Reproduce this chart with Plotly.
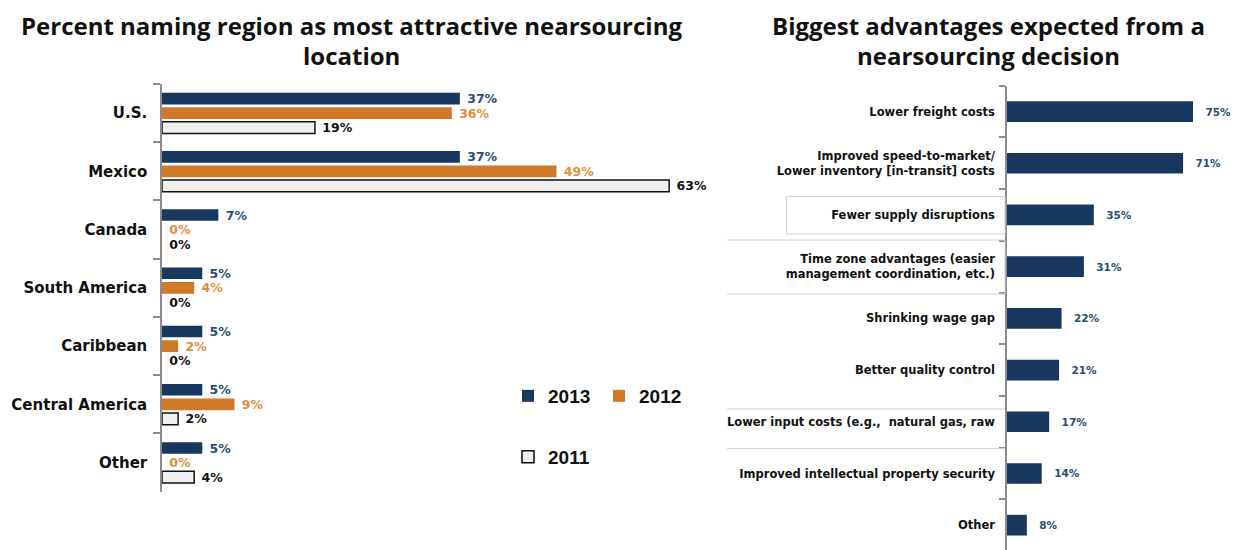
import plotly.graph_objects as go

# ---------------- data ----------------
regions = ["U.S.", "Mexico", "Canada", "South America", "Caribbean", "Central America", "Other"]
vals_2013 = [37, 37, 7, 5, 5, 5, 5]
vals_2012 = [36, 49, 0, 4, 2, 9, 0]
vals_2011 = [19, 63, 0, 0, 0, 2, 4]

advantages = [
    "Lower freight costs",
    "Improved speed-to-market/<br>Lower inventory [in-transit] costs",
    "Fewer supply disruptions",
    "Time zone advantages (easier<br>management coordination, etc.)",
    "Shrinking wage gap",
    "Better quality control",
    "Lower input costs (e.g.,  natural gas, raw",
    "Improved intellectual property security",
    "Other",
]
adv_vals = [75, 71, 35, 31, 22, 21, 17, 14, 8]

# ---------------- style ----------------
W, H = 1250, 550
OFF = 8  # page body margin offset
NAVY = "#17375E"
ORANGE = "#D07A28"
LIGHT = "#EEEFEE"
NAVY_TXT = "#2B4E78"
ORANGE_TXT = "#E0903A"
AXIS_GREY = "#8C8C8C"
VAL_FONT = "DejaVu Sans"
LBL_FONT = "DejaVu Sans"


def px_x(p):
    return (p - OFF) / W


def px_y(p):
    return 1 - (p - OFF) / H


fig = go.Figure()

bw = 0.2
step = 0.25
series = [
    ("2013", vals_2013, NAVY, NAVY_TXT, -step, None, "legend"),
    ("2012", vals_2012, ORANGE, ORANGE_TXT, 0.0, None, "legend"),
    ("2011", vals_2011, LIGHT, "#111111", step, "#111111", "legend2"),
]
for name, vals, color, tcolor, off, lcolor, leg in series:
    lw = [1.5 if (lcolor and v > 0) else 0 for v in vals]
    fig.add_trace(go.Bar(
        name=name, y=regions, x=vals, orientation="h",
        width=bw, offset=off - bw / 2,
        marker=dict(color=color, line=dict(color=lcolor or color, width=lw)),
        text=[f" {v}%" for v in vals], textposition="outside", constraintext="none",
        textfont=dict(family=VAL_FONT, size=12.5, color=tcolor, weight="bold"),
        cliponaxis=False, xaxis="x", yaxis="y", legend=leg,
    ))

fig.add_trace(go.Bar(
    name="advantages", y=advantages, x=adv_vals, orientation="h",
    width=0.4, marker=dict(color=NAVY, line=dict(width=0)),
    text=[f"  \u2009{v}%" for v in adv_vals], textposition="outside", constraintext="none",
    textfont=dict(family=VAL_FONT, size=10.5, color=NAVY_TXT, weight="bold"),
    cliponaxis=False, xaxis="x2", yaxis="y2", showlegend=False,
))

fig.update_layout(
    width=W, height=H,
    margin=dict(l=0, r=0, t=0, b=0),
    paper_bgcolor="white", plot_bgcolor="white",
    barmode="overlay",
    xaxis=dict(domain=[px_x(162), px_x(720)], range=[0, (720 - 162) / 8.05],
               visible=False, fixedrange=True),
    yaxis=dict(domain=[px_y(491.7), px_y(84)], type="category", categoryorder="array",
               categoryarray=regions, range=[6.5, -0.5], tickson="boundaries",
               ticks="outside", ticklen=7, tickcolor=AXIS_GREY, tickwidth=1.5,
               showline=True, linecolor=AXIS_GREY, linewidth=1.5, showgrid=False,
               ticklabelstandoff=10,
               tickfont=dict(family=LBL_FONT, size=15, color="#111111", weight="bold")),
    xaxis2=dict(domain=[px_x(1007), px_x(1250)], range=[0, (1250 - 1007) / 2.48],
                visible=False, fixedrange=True, anchor="y2"),
    yaxis2=dict(domain=[px_y(550), px_y(85.7)], type="category", categoryorder="array",
                categoryarray=advantages, range=[8.48, -0.5], tickson="boundaries",
                ticks="outside", ticklen=6, tickcolor=AXIS_GREY, tickwidth=1.5,
                showline=True, linecolor=AXIS_GREY, linewidth=1.5, showgrid=False,
                anchor="x2", ticklabelstandoff=8,
                tickfont=dict(family=LBL_FONT, size=11.5, color="#111111", weight="bold")),
    showlegend=True,
    legend=dict(orientation="h", x=px_x(508), y=px_y(396), xanchor="left", yanchor="middle",
                font=dict(family="Liberation Sans", size=19, color="#111111", weight="bold"),
                bgcolor="rgba(0,0,0,0)", itemwidth=30, entrywidth=46, entrywidthmode="pixels",
                traceorder="normal"),
    legend2=dict(orientation="h", x=px_x(508), y=px_y(457), xanchor="left", yanchor="middle",
                 font=dict(family="Liberation Sans", size=19, color="#111111", weight="bold"),
                 bgcolor="rgba(0,0,0,0)", itemwidth=30),
)

# Titles (each line placed separately to match the source line spacing)
TITLE_FONT = dict(family="Open Sans", size=24, color="#111111", weight="bold")
titles = [
    ("Percent naming region as most attractive nearsourcing", 351, 8, "top"),
    ("location", 351, 55, "middle"),
    ("Biggest advantages expected from a", 988, 8, "top"),
    ("nearsourcing decision", 988, 55, "middle"),
]
for txt, cx, cy, ya in titles:
    fig.add_annotation(text=txt, x=px_x(cx), y=px_y(cy), xref="paper", yref="paper",
                       xanchor="center", yanchor=ya, showarrow=False, font=TITLE_FONT,
                       borderpad=0)

# light grey leftover frame lines around some labels (as in source slide)
LINE = dict(color="#D3D3D3", width=1)
fig.add_shape(type="rect", xref="paper", yref="paper",
              x0=px_x(786.5), x1=px_x(1005), y0=px_y(234), y1=px_y(196.5), line=LINE)
for yy in (240, 294, 409, 448.5):
    fig.add_shape(type="line", xref="paper", yref="paper",
                  x0=px_x(727), x1=px_x(1005), y0=px_y(yy), y1=px_y(yy), line=LINE)
fig.add_shape(type="line", xref="paper", yref="paper",
              x0=px_x(1005), x1=px_x(1005), y0=px_y(240), y1=px_y(294), line=LINE)

fig.write_html("out.html")
